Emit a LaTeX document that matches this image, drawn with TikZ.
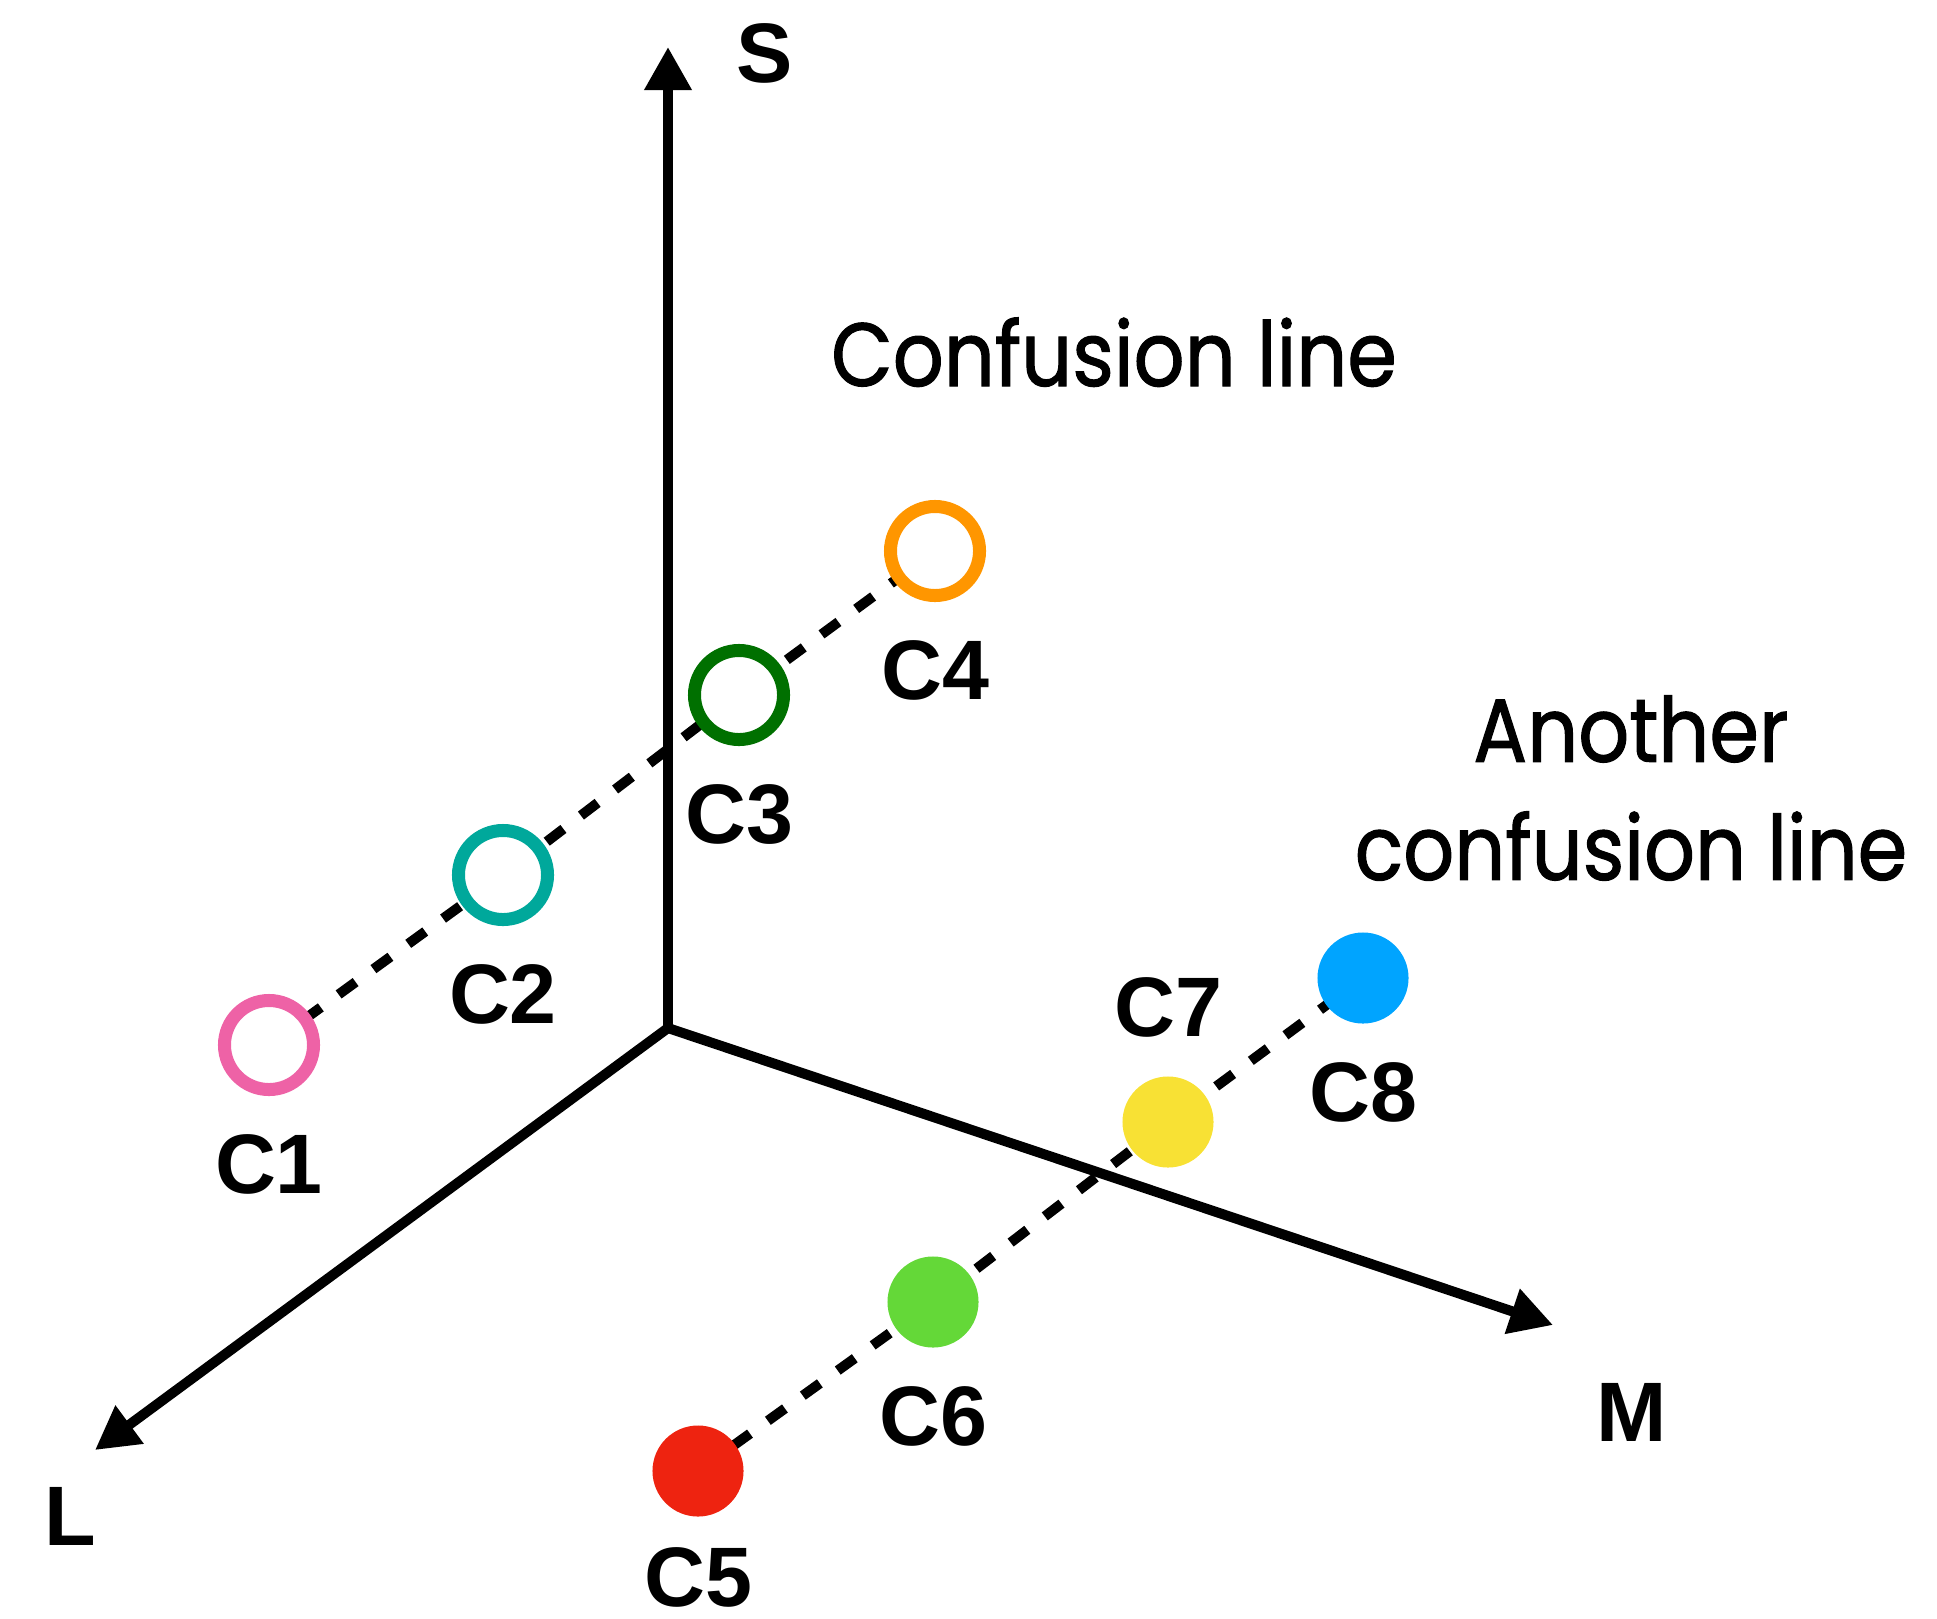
\documentclass[tikz,border=0pt]{standalone}
\usepackage{fontspec}
\setmainfont{Poppins}[FakeStretch=0.89, FakeBold=1.2]
\newfontfamily\labfont{Liberation Sans}
\usetikzlibrary{
    arrows.meta,
    backgrounds,
    positioning
}

\definecolor{pinkc}{RGB}{238,98,166}
\definecolor{tealc}{RGB}{0,168,155}
\definecolor{darkgreenc}{RGB}{0,112,0}
\definecolor{orangec}{RGB}{255,150,0}
\definecolor{redc}{RGB}{238,35,16}
\definecolor{greenc}{RGB}{100,216,56}
\definecolor{yellowc}{RGB}{248,225,52}
\definecolor{bluec}{RGB}{0,164,255}

\begin{document}
\begin{tikzpicture}[x=0.01cm, y=-0.01cm, node distance=0.38cm,
    axis/.style={line width=0.1cm, -{Triangle[length=0.43cm, width=0.45cm]}},
    confline/.style={line width=0.1cm, dash pattern=on 0.21cm off 0.22cm},
    ring/.style={circle, draw=#1, line width=0.13cm, fill=white, minimum size=0.89cm, inner sep=0pt},
    dot/.style={circle, fill=#1, minimum size=0.91cm, inner sep=0pt},
    tag/.style={font=\labfont\bfseries\fontsize{24}{29}\selectfont, inner sep=0pt},
    note/.style={font=\fontsize{25.5}{33.6}\selectfont, inner sep=0pt, align=center}
]
    \useasboundingbox (0,0) rectangle (1937,1618);

    \coordinate (o) at (668,1028);
    \coordinate (s) at (668,47);
    \coordinate (l) at (95,1450);
    \coordinate (m) at (1553,1325);

    \node[tag] (slab) at (765,53) {S};
    \node[tag] (llab) at (70,1516) {L};
    \node[tag] (mlab) at (1632,1412) {M};

    \node[ring=pinkc] (c1) at (269,1045) {};
    \node[ring=tealc] (c2) at (503,875) {};
    \node[ring=darkgreenc] (c3) at (739,695) {};
    \node[ring=orangec] (c4) at (935,551) {};
    \node[dot=redc] (c5) at (698,1471) {};
    \node[dot=greenc] (c6) at (933,1302) {};
    \node[dot=yellowc] (c7) at (1168,1122) {};
    \node[dot=bluec] (c8) at (1363,978) {};

    \node[tag, below=of c1] (c1lab) {C1};
    \node[tag, below=of c2] (c2lab) {C2};
    \node[tag, below=of c3] (c3lab) {C3};
    \node[tag, below=of c4] (c4lab) {C4};
    \node[tag, below=0.3cm of c5] (c5lab) {C5};
    \node[tag, below=of c6] (c6lab) {C6};
    \node[tag, above=of c7] (c7lab) {C7};
    \node[tag, below=of c8] (c8lab) {C8};

    \node[note, anchor=base] (conf) at (1114,386) {Confusion line};
    \node[note] (other) at (1631,788) {Another\\confusion line};

    \begin{scope}[on background layer]
        \draw[axis] (o) -- (s);
        \draw[axis] (o) -- (l);
        \draw[axis] (o) -- (m);
        \draw[confline] (c1.center) -- (c2.center) -- (c3.center) -- (c4.center);
        \draw[confline] (c5.center) -- (c6.center) -- (c7.center) -- (c8.center);
    \end{scope}
\end{tikzpicture}
\end{document}
